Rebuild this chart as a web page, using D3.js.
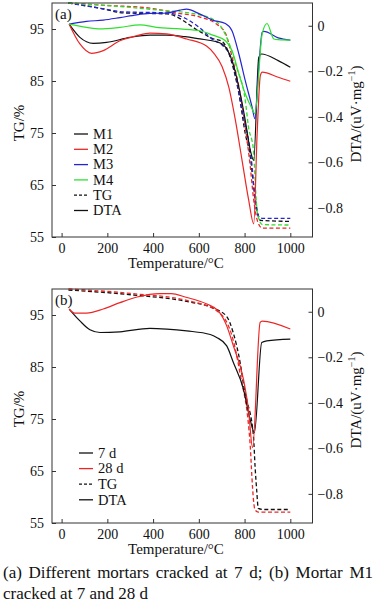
<!DOCTYPE html>
<html>
<head>
<meta charset="utf-8">
<script src="https://cdn.jsdelivr.net/npm/d3@7"></script>
<style>
  body { margin: 0; background: #fff; }
  svg { display: block; font-family: "Liberation Serif", "Times New Roman", Times, "DejaVu Serif", serif; }
  svg text { font-family: "Liberation Serif", "Times New Roman", Times, "DejaVu Serif", serif; }
</style>
</head>
<body>
<svg id="chart" width="377" height="602"></svg>
<script>
// ---- data (temperature in °C, TG in %, DTA in uV/mg) ----
const xTicks = [0, 200, 400, 600, 800, 1000];
const tgTicks = [55, 65, 75, 85, 95];
const dtaTicks = [0, -0.2, -0.4, -0.6, -0.8];

// panel (a): different mortars cracked at 7 d
const m1TG = [[30,100],[168,99],[270,98.1],[460,97.9],[605,94.5],[658,93.2],[702,92.6],[745,88.4],[775,82.6],[803,74.9],[825,70.4],[840,64.7],[855,60.2],[869,58.2],[1000,58]];
const m2TG = [[30,100],[168,99.6],[387,99],[500,98.1],[605,97.3],[672,96.1],[716,94.2],[745,89.7],[775,83.9],[803,76.2],[825,68.5],[840,62.1],[855,58.3],[877,56.7],[1000,56.7]];
const m3TG = [[30,100],[168,99],[270,98.3],[460,98.1],[605,95.2],[663,92.9],[702,91.9],[745,89],[789,79.4],[833,68.5],[847,61.5],[862,58.9],[877,58.6],[1000,58.6]];
const m4TG = [[30,100],[168,99.6],[387,98.8],[605,97.7],[678,96.4],[730,92.5],[765,87.7],[803,81.3],[817,76.2],[839,71.7],[846,66],[853,60.8],[860,58.9],[877,57.4],[1000,57.3]];

const m1DTA = [[33,0.007],[80,-0.051],[138,-0.077],[197,-0.073],[299,-0.051],[386,-0.041],[460,-0.041],[540,-0.048],[605,-0.058],[658,-0.066],[702,-0.08],[745,-0.153],[775,-0.27],[803,-0.416],[825,-0.547],[840,-0.591],[862,-0.139],[874,-0.124],[947,-0.153],[1000,-0.182]];
const m2DTA = [[33,0.007],[80,-0.08],[131,-0.121],[182,-0.109],[255,-0.066],[328,-0.044],[386,-0.032],[459,-0.036],[547,-0.058],[635,-0.09],[665,-0.12],[702,-0.18],[731,-0.27],[760,-0.416],[789,-0.591],[818,-0.766],[840,-0.87],[855,-0.473],[869,-0.219],[877,-0.204],[947,-0.226],[1000,-0.244]];
const m3DTA = [[33,0.007],[109,0.019],[182,0.025],[255,0.036],[328,0.048],[386,0.054],[460,0.056],[518,0.069],[546,0.073],[605,0.051],[660,0.025],[716,0.01],[745,-0.022],[775,-0.124],[803,-0.241],[833,-0.358],[845,-0.408],[862,-0.182],[877,-0.029],[884,-0.025],[947,-0.053],[1000,-0.063]];
const m4DTA = [[33,0.007],[109,-0.007],[168,-0.014],[255,-0.007],[343,0.004],[415,-0.007],[518,-0.014],[605,-0.022],[658,-0.04],[716,-0.066],[745,-0.109],[775,-0.211],[803,-0.299],[833,-0.365],[845,-0.386],[877,-0.036],[898,0.01],[928,-0.058],[947,-0.061],[1000,-0.063]];

// panel (b): mortar M1 cracked at 7 and 28 d
const d7TG = [[30,99.8],[313,98.85],[547,97.6],[664,96.3],[722,94.7],[751,91.5],[780,86],[800,80.5],[810,78.6],[839,71.6],[846,65.8],[853,61.3],[860,57.8],[880,57.6],[1000,57.6]];
const d28TG = [[30,100],[313,99.1],[547,97.8],[685,95.6],[750,90.2],[780,83.8],[825,69.7],[832,63.9],[839,59.4],[846,57.5],[860,57.1],[1000,57.1]];
const d7DTA = [[33,0.012],[80,-0.04],[124,-0.079],[168,-0.091],[255,-0.088],[386,-0.073],[460,-0.076],[547,-0.084],[650,-0.1],[678,-0.113],[722,-0.15],[751,-0.223],[795,-0.34],[824,-0.473],[843,-0.531],[875,-0.135],[897,-0.128],[1000,-0.12]];
const d28DTA = [[33,0.012],[58,-0.006],[109,-0.006],[182,0.012],[255,0.04],[330,0.065],[430,0.08],[480,0.08],[540,0.065],[635,0.034],[685,0.004],[722,-0.062],[751,-0.15],[795,-0.296],[817,-0.43],[835,-0.597],[868,-0.047],[877,-0.041],[1000,-0.076]];

const legendA = ['M1', 'M2', 'M3', 'M4', 'TG', 'DTA'];
const legendB = ['7 d', '28 d', 'TG', 'DTA'];
const captionLines = ['(a) Different mortars cracked at 7 d; (b) Mortar M1', 'cracked at 7 and 28 d'];

const FONT = '"Liberation Serif", "Times New Roman", Times, "DejaVu Serif", serif';
const BLACK = '#111', RED = '#ec2626', BLUE = '#2424d2', GREEN = '#2ee02e';

const svg = d3.select('#chart');

const x = d3.scaleLinear().domain([-42, 1097]).range([52, 312.5]);

function drawPanel(cfg) {
    const yTG = d3.scaleLinear().domain([55, 100]).range([cfg.bottom, cfg.top]);
    const yDTA = d3.scaleLinear().domain([-0.928, 0.1]).range([cfg.bottom, cfg.top]);
    const g = svg.append('g');

    const lineTG = d3.line().x(d => x(d[0])).y(d => yTG(d[1])).curve(d3.curveMonotoneX);
    const lineDTA = d3.line().x(d => x(d[0])).y(d => yDTA(d[1])).curve(d3.curveMonotoneX);

    // TG curves are dashed, DTA curves solid
    g.selectAll('.tg').data(cfg.tg).join('path')
        .attr('class', 'tg')
        .attr('d', d => lineTG(d.values))
        .attr('fill', 'none')
        .attr('stroke', d => d.color)
        .attr('stroke-width', 1.3)
        .attr('stroke-dasharray', '4,2.5');

    g.selectAll('.dta').data(cfg.dta).join('path')
        .attr('class', 'dta')
        .attr('d', d => lineDTA(d.values))
        .attr('fill', 'none')
        .attr('stroke', d => d.color)
        .attr('stroke-width', 1.2);

    // axes
    const axB = g.append('g')
        .attr('transform', `translate(0,${cfg.bottom})`)
        .call(d3.axisBottom(x).tickValues(xTicks).tickSizeInner(-4).tickSizeOuter(0).tickPadding(6)
            .tickFormat(d3.format('d')));
    const axL = g.append('g')
        .attr('transform', 'translate(52,0)')
        .call(d3.axisLeft(yTG).tickValues(tgTicks).tickSizeInner(-4).tickSizeOuter(0).tickPadding(8));
    const axR = g.append('g')
        .attr('transform', 'translate(312.5,0)')
        .call(d3.axisRight(yDTA).tickValues(dtaTicks).tickSizeInner(-4).tickSizeOuter(0).tickPadding(5)
            .tickFormat(d => d === 0 ? '0' : d3.format('.1f')(d)));

    [axB, axL, axR].forEach(a => {
        a.attr('font-family', FONT);
        a.select('.domain').remove();
        a.selectAll('line').attr('stroke', '#333');
        a.selectAll('text').attr('font-size', 14).attr('fill', '#111');
    });

    g.append('rect')
        .attr('x', 52).attr('y', cfg.top)
        .attr('width', 312.5 - 52).attr('height', cfg.bottom - cfg.top)
        .attr('fill', 'none').attr('stroke', '#333').attr('stroke-width', 1);

    // panel tag
    g.append('text').attr('x', 55).attr('y', cfg.top + 16)
        .attr('font-size', 15).attr('fill', '#111').text(cfg.tag);

    // axis titles
    g.append('text')
        .attr('x', (x(0) + x(1000)) / 2).attr('y', cfg.bottom + 31)
        .attr('text-anchor', 'middle').attr('font-size', 15).attr('fill', '#111')
        .text('Temperature/°C');

    const mid = (cfg.top + cfg.bottom) / 2;
    g.append('text')
        .attr('transform', `translate(24,${mid + 3}) rotate(-90)`)
        .attr('text-anchor', 'middle').attr('font-size', 15).attr('fill', '#111')
        .text('TG/%');

    const rt = g.append('text')
        .attr('transform', `translate(361,${mid - 6}) rotate(-90)`)
        .attr('text-anchor', 'middle').attr('font-size', 15).attr('fill', '#111');
    rt.append('tspan').text('DTA/(uV·mg');
    rt.append('tspan').attr('font-size', 10).attr('dy', -6).text('−1');
    rt.append('tspan').attr('dy', 6).text(')');

    // legend
    const lg = g.append('g');
    const items = lg.selectAll('g').data(cfg.legend).join('g')
        .attr('transform', (d, i) => `translate(0,${cfg.legendY + i * cfg.legendStep})`);
    items.append('line')
        .attr('x1', cfg.legendX).attr('x2', cfg.legendX + 14)
        .attr('stroke', (d, i) => cfg.legendColors[i])
        .attr('stroke-width', 1.3)
        .attr('stroke-dasharray', d => d === 'TG' ? '3,2' : null);
    items.append('text')
        .attr('x', cfg.legendX + 19).attr('dy', '0.33em')
        .attr('font-size', 14.5).attr('fill', '#111')
        .text(d => d);
}

drawPanel({
    top: 3, bottom: 237, tag: '(a)',
    tg: [{values: m1TG, color: BLACK}, {values: m2TG, color: RED}, {values: m3TG, color: BLUE}, {values: m4TG, color: GREEN}],
    dta: [{values: m1DTA, color: BLACK}, {values: m2DTA, color: RED}, {values: m3DTA, color: BLUE}, {values: m4DTA, color: GREEN}],
    legend: legendA, legendColors: [BLACK, RED, BLUE, GREEN, BLACK, BLACK],
    legendX: 74, legendY: 134, legendStep: 15.3
});

drawPanel({
    top: 289, bottom: 523, tag: '(b)',
    tg: [{values: d7TG, color: BLACK}, {values: d28TG, color: RED}],
    dta: [{values: d7DTA, color: BLACK}, {values: d28DTA, color: RED}],
    legend: legendB, legendColors: [BLACK, RED, BLACK, BLACK],
    legendX: 79, legendY: 453, legendStep: 15.6
});

// caption, justified on the first line
const capSize = 17;
captionLines.forEach((line, li) => {
    const words = line.split(' ');
    const y = 578 + li * 20.5;
    const t = svg.append('g').selectAll('text').data(words).join('text')
        .attr('y', y).attr('font-size', capSize).attr('fill', '#111').text(d => d);
    const widths = t.nodes().map(n => n.getComputedTextLength());
    const total = d3.sum(widths);
    const gap = li === 0 ? (370 - total) / (words.length - 1) : capSize * 0.25;
    let cx = 3;
    t.attr('x', (d, i) => { const v = cx; cx += widths[i] + gap; return v; });
});
</script>
</body>
</html>
